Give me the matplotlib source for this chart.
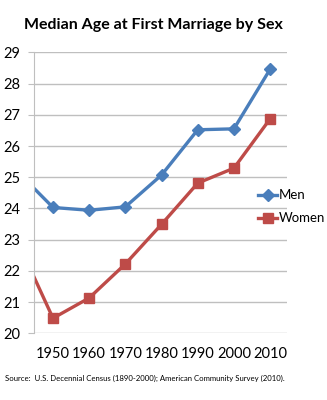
import matplotlib.pyplot as plt

# data (1940 point only shows as a clipped stub at the left edge)
years = [1940, 1950, 1960, 1970, 1980, 1990, 2000, 2010]
men = [25.2, 24.03, 23.94, 24.05, 25.07, 26.52, 26.55, 28.46]
women = [23.0, 20.48, 21.13, 22.22, 23.49, 24.81, 25.29, 26.87]
tick_years = [1950, 1960, 1970, 1980, 1990, 2000, 2010]
yticks = list(range(20, 30))

plt.rcParams['font.family'] = ['Lato', 'DejaVu Sans']

fig = plt.figure(figsize=(3.27, 4.0), dpi=100)
ax = fig.add_axes([0.104, 0.167, 0.774, 0.702])

ax.plot(years, men, color='#4A7EBB', lw=2.4, marker='D', ms=6.5, label='Men')
ax.plot(years, women, color='#BE4B48', lw=2.4, marker='s', ms=7.5, label='Women')

ax.set_xlim(1944.75, 2014.7)
ax.set_ylim(20, 29)
ax.set_yticks(yticks)
ax.set_xticks(tick_years)
ax.grid(axis='y', color='#BFBFBF', lw=1)
ax.set_axisbelow(True)
for s in ['top', 'right', 'bottom']:
    ax.spines[s].set_visible(False)
ax.spines['left'].set_color('#BFBFBF')
ax.tick_params(axis='y', length=4, color='#BFBFBF', labelsize=10.5, pad=6)
ax.tick_params(axis='x', length=0, labelsize=10.5, pad=10)

ax.legend(loc='center left', bbox_to_anchor=(0.885, 0.45), frameon=False,
          fontsize=9.5, handlelength=1.45, handletextpad=0.1, labelspacing=0.85,
          borderaxespad=0, borderpad=0)

fig.text(0.47, 0.937, 'Median Age at First Marriage by Sex', ha='center', va='center',
         fontsize=11.5, fontweight='bold')
fig.text(0.015, 0.055, 'Source:  U.S. Decennial Census (1890-2000); American Community Survey (2010).',
         ha='left', va='center', fontsize=5.6)

plt.savefig('out.png', dpi=100)
